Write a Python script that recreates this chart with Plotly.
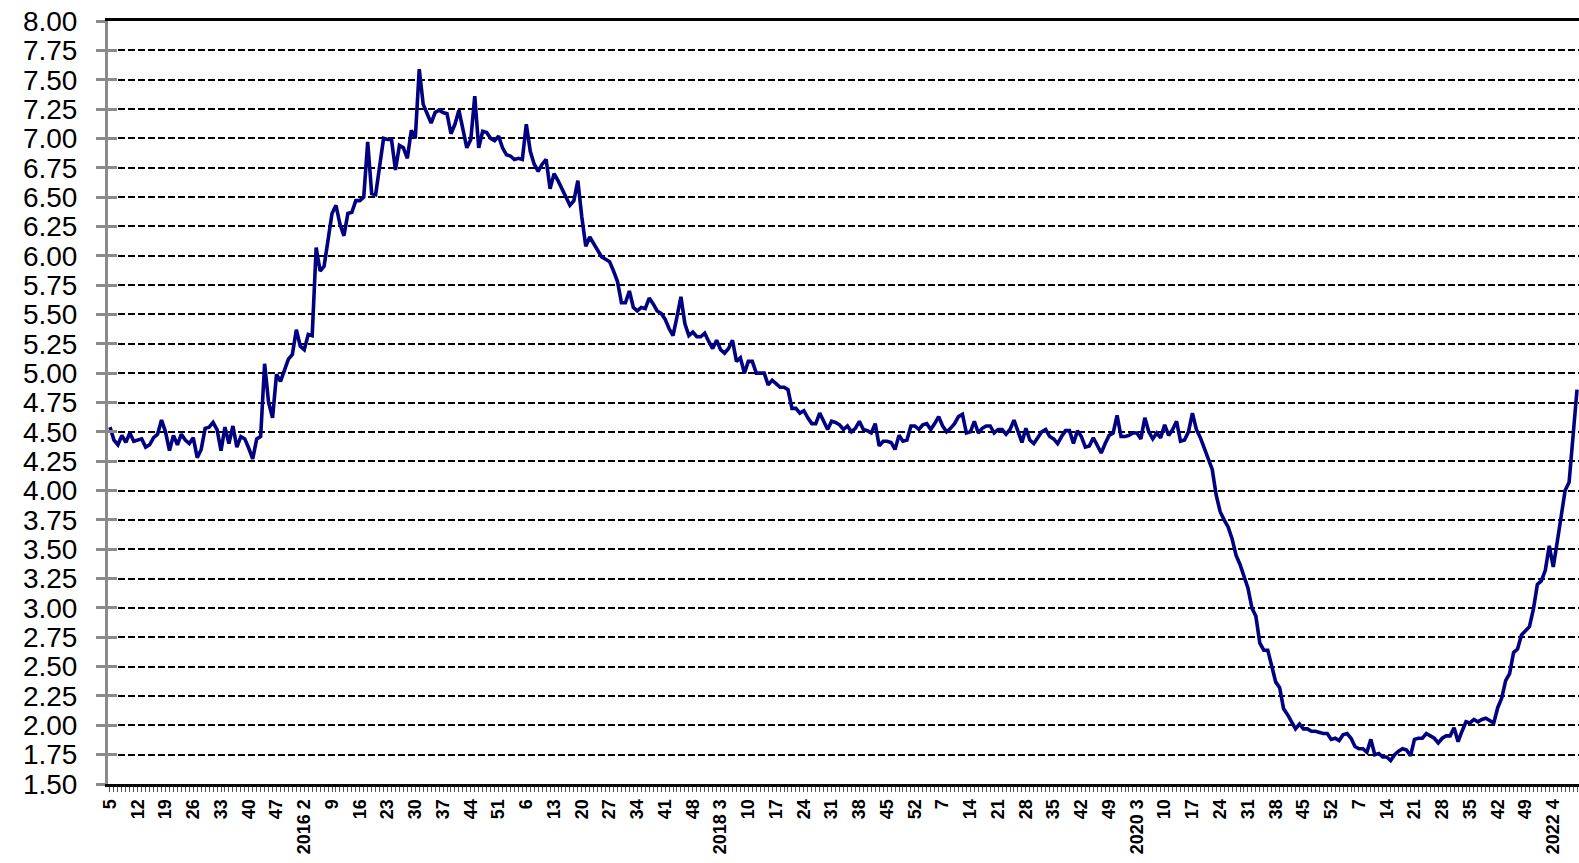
import plotly.graph_objects as go

# Weekly values by year (2015 starts at week 5)
v2015 = [4.54, 4.43, 4.39, 4.47, 4.41, 4.49, 4.42, 4.43, 4.44, 4.37,
         4.39, 4.45, 4.48, 4.60, 4.50, 4.34, 4.47, 4.39, 4.48, 4.43,
         4.40, 4.45, 4.28, 4.35, 4.53, 4.54, 4.58, 4.52, 4.34, 4.54,
         4.40, 4.55, 4.37, 4.46, 4.44, 4.36, 4.27, 4.44, 4.46, 5.08,
         4.75, 4.62, 4.99, 4.93, 5.02, 5.12, 5.16, 5.37]
v2016 = [5.23, 5.20, 5.33, 5.32, 6.07, 5.87, 5.91, 6.13, 6.36, 6.43,
         6.27, 6.17, 6.36, 6.37, 6.47, 6.47, 6.50, 6.97, 6.53, 6.52,
         6.75, 7.00, 6.99, 6.99, 6.73, 6.94, 6.92, 6.83, 7.07, 7.00,
         7.59, 7.29, 7.21, 7.13, 7.22, 7.24, 7.22, 7.21, 7.04, 7.12,
         7.24, 7.08, 6.92, 6.99, 7.36, 6.92, 7.06, 7.05, 7.00, 6.98,
         7.02, 6.92]
v2017 = [6.86, 6.85, 6.82, 6.83, 6.82, 7.12, 6.89, 6.78, 6.72, 6.78,
         6.82, 6.57, 6.70, 6.64, 6.57, 6.50, 6.43, 6.47, 6.64, 6.33,
         6.08, 6.16, 6.10, 6.04, 5.99, 5.97, 5.95, 5.87, 5.78, 5.60,
         5.60, 5.70, 5.56, 5.53, 5.56, 5.55, 5.64, 5.59, 5.53, 5.51,
         5.46, 5.38, 5.32, 5.48, 5.65, 5.42, 5.32, 5.35, 5.31, 5.31,
         5.34, 5.27]
v2018 = [5.21, 5.28, 5.20, 5.17, 5.21, 5.28, 5.10, 5.13, 5.00, 5.10,
         5.10, 5.00, 5.00, 5.00, 4.90, 4.94, 4.91, 4.88, 4.88, 4.86,
         4.70, 4.70, 4.66, 4.68, 4.62, 4.57, 4.57, 4.66, 4.59, 4.52,
         4.59, 4.58, 4.56, 4.52, 4.55, 4.50, 4.53, 4.59, 4.52, 4.51,
         4.49, 4.57, 4.38, 4.42, 4.42, 4.41, 4.35, 4.47, 4.42, 4.43,
         4.55, 4.55]
v2019 = [4.52, 4.56, 4.57, 4.52, 4.57, 4.63, 4.55, 4.50, 4.53, 4.57,
         4.63, 4.65, 4.49, 4.50, 4.59, 4.49, 4.53, 4.55, 4.55, 4.49,
         4.52, 4.52, 4.48, 4.52, 4.60, 4.51, 4.41, 4.53, 4.43, 4.40,
         4.45, 4.50, 4.52, 4.46, 4.44, 4.40, 4.46, 4.51, 4.51, 4.40,
         4.51, 4.46, 4.37, 4.38, 4.45, 4.39, 4.32, 4.40, 4.47, 4.49,
         4.64, 4.46, 4.46]
v2020 = [4.47, 4.49, 4.49, 4.44, 4.62, 4.50, 4.44, 4.49, 4.45, 4.56,
         4.47, 4.52, 4.59, 4.42, 4.43, 4.50, 4.66, 4.52, 4.45, 4.36,
         4.26, 4.18, 3.96, 3.82, 3.75, 3.69, 3.59, 3.45, 3.37, 3.28,
         3.17, 3.00, 2.93, 2.70, 2.64, 2.64, 2.49, 2.37, 2.32, 2.14,
         2.09, 2.03, 1.97, 2.01, 1.97, 1.97, 1.95, 1.95, 1.94, 1.93,
         1.93, 1.88]
v2021 = [1.89, 1.87, 1.92, 1.93, 1.89, 1.82, 1.80, 1.80, 1.77, 1.88,
         1.75, 1.76, 1.73, 1.73, 1.70, 1.75, 1.78, 1.80, 1.79, 1.74,
         1.88, 1.89, 1.89, 1.93, 1.91, 1.89, 1.85, 1.89, 1.91, 1.91,
         1.98, 1.86, 1.95, 2.03, 2.02, 2.05, 2.03, 2.05, 2.06, 2.04,
         2.02, 2.15, 2.23, 2.38, 2.44, 2.62, 2.65, 2.77, 2.80, 2.84,
         2.99, 3.20]
v2022 = [3.23, 3.32, 3.53, 3.35, 3.56, 3.77, 4.00, 4.07, 4.44, 4.86]

# Tick labels (one every 7 weeks, starting at 2015 week 5)
tick_labels = ["5", "12", "19", "26", "33", "40", "47",
               "2016 2", "9", "16", "23", "30", "37", "44", "51",
               "6", "13", "20", "27", "34", "41", "48",
               "2018 3", "10", "17", "24", "31", "38", "45", "52",
               "7", "14", "21", "28", "35", "42", "49",
               "2020 3", "10", "17", "24", "31", "38", "45", "52",
               "7", "14", "21", "28", "35", "42", "49",
               "2022 4", "11"]

values = v2015 + v2016 + v2017 + v2018 + v2019 + v2020 + v2021 + v2022
x = list(range(len(values)))
tick_pos = [7 * k for k in range(len(tick_labels))]

grey = "#8a8a8a"
fig = go.Figure()
fig.add_trace(go.Scatter(x=x, y=values, mode="lines",
                         line=dict(color="#000080", width=3.6),
                         hoverinfo="skip", showlegend=False))
fig.add_trace(go.Scatter(x=[x[0]], y=[values[0]], yaxis="y2", mode="lines",
                         line=dict(width=0), hoverinfo="skip", showlegend=False))

fig.update_layout(
    width=1579, height=863,
    margin=dict(l=108, r=0, t=21, b=79),
    paper_bgcolor="white", plot_bgcolor="white",
    showlegend=False,
    xaxis=dict(
        range=[-0.5, 370.5], automargin=False,
        tickmode="array", tickvals=tick_pos, ticktext=tick_labels,
        tickangle=-90, ticklabeloverflow="allow",
        tickfont=dict(family="Liberation Sans", size=18, color="black", weight="bold"),
        showline=True, linecolor="black", linewidth=3, mirror=True,
        ticks="outside", ticklen=5, tickcolor="#555", tickwidth=1,
        showgrid=False, zeroline=False,
        minor=dict(tick0=0, dtick=1, ticks="outside", ticklen=5,
                   tickcolor="#555", tickwidth=1, showgrid=False),
    ),
    yaxis=dict(
        range=[1.5, 8.0], tick0=1.5, dtick=0.25, tickformat=".2f",
        automargin=False, ticklabeloverflow="allow",
        tickfont=dict(family="Liberation Sans", size=28, color="black"),
        showline=True, linecolor=grey, linewidth=3,
        ticks="outside", ticklen=9, tickwidth=3, tickcolor=grey,
        ticklabelstandoff=13,
        showgrid=True, gridcolor="black", gridwidth=2, griddash="7px,3px",
        zeroline=False,
    ),
    yaxis2=dict(
        range=[1.5, 8.0], tick0=1.5, dtick=0.25, overlaying="y", side="left",
        automargin=False,
        showticklabels=False, ticks="inside", ticklen=9, tickwidth=3,
        tickcolor=grey, showgrid=False, showline=False, zeroline=False,
    ),
)

fig.write_html(
    "out.html",
    config={"displayModeBar": False},
    post_script="document.body.style.margin='0';document.body.style.overflow='hidden';",
)
